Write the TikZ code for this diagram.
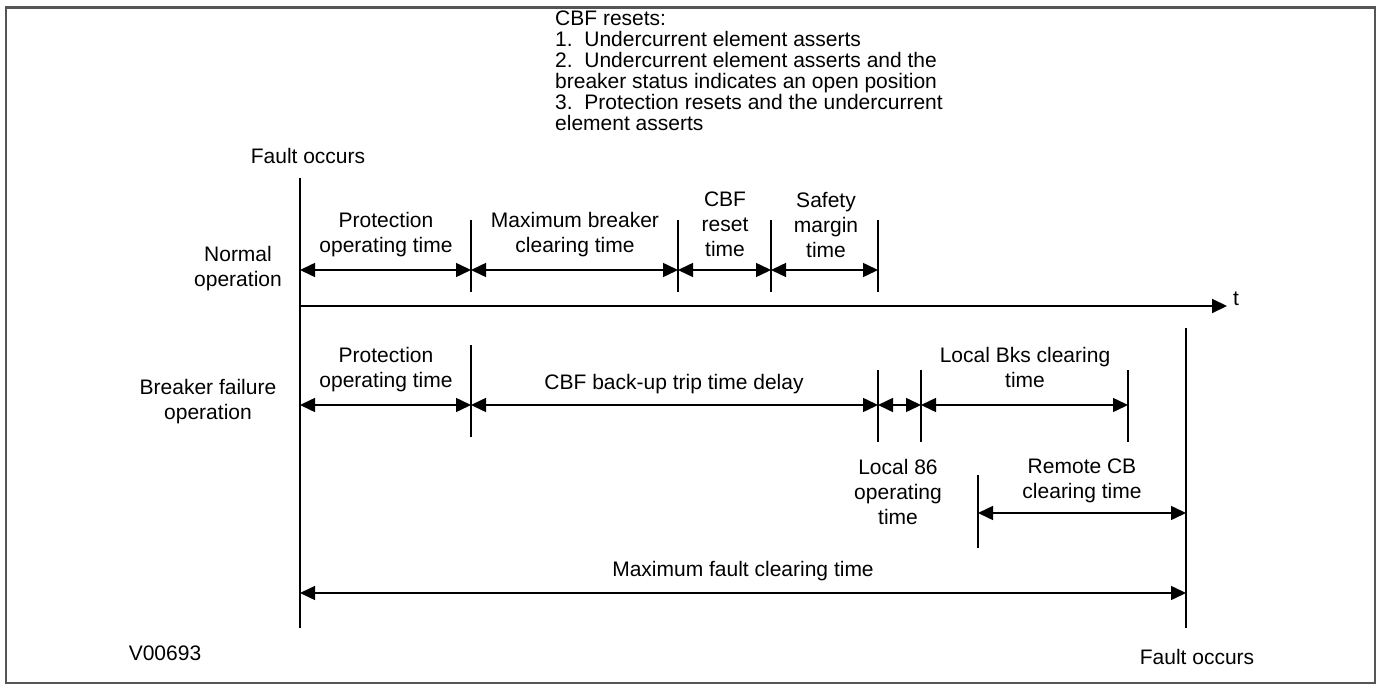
\documentclass[tikz,border=0pt]{standalone}
\usepackage{fontspec}
\setmainfont{Liberation Sans}
\usetikzlibrary{arrows.meta}
\begin{document}
\begin{tikzpicture}[x=1pt,y=-1pt,
  lbl/.style={font=\fontsize{21}{25}\selectfont, align=center, inner sep=0pt, anchor=north},
  tickline/.style={line width=1.5pt},
  mainline/.style={line width=2pt},
  tip/.tip={Triangle[length=15pt,width=14pt]},
  dim/.style={line width=1.5pt, tip-tip},
  axisline/.style={line width=2pt, -tip},
  frame/.style={draw={rgb,255:red,85;green,85;blue,85}, line width=2.5pt}
]
\useasboundingbox (0,0) rectangle (1380,684);
\draw[frame] (6,7.5) rectangle (1375,683);

% main vertical lines
\coordinate (f0t) at (300,178); \coordinate (f0b) at (300,628);
\coordinate (f1t) at (1186,328); \coordinate (f1b) at (1186,628);
\draw[mainline] (f0t) -- (f0b);
\draw[mainline] (f1t) -- (f1b);

% time axis
\coordinate (ax0) at (300,306); \coordinate (ax1) at (1227,306);
\draw[axisline] (ax0) -- (ax1);
\node[lbl, anchor=north west] (t) at (1233,292) {t};

% normal operation ticks
\foreach \x/\n in {471/1,678/2,771/3,878/4}{
  \coordinate (nt\n) at (\x,220); \coordinate (nb\n) at (\x,292);
  \draw[tickline] (nt\n) -- (nb\n);
  \coordinate (a\n) at (\x,270);
}
\coordinate (a0) at (300,270);
\draw[dim] (a0) -- (a1);
\draw[dim] (a1) -- (a2);
\draw[dim] (a2) -- (a3);
\draw[dim] (a3) -- (a4);

% breaker failure ticks
\coordinate (bt1) at (471,345); \coordinate (bb1) at (471,437);
\draw[tickline] (bt1) -- (bb1);
\foreach \x/\n in {878/2,921/3,1128/4}{
  \coordinate (bt\n) at (\x,370); \coordinate (bb\n) at (\x,442);
  \draw[tickline] (bt\n) -- (bb\n);
}
\coordinate (b0) at (300,405); \coordinate (b1) at (471,405);
\coordinate (b2) at (878,405); \coordinate (b3) at (921,405);
\coordinate (b4) at (1128,405);
\draw[dim] (b0) -- (b1);
\draw[dim] (b1) -- (b2);
\draw[dim] (b2) -- (b3);
\draw[dim] (b3) -- (b4);

% remote CB
\coordinate (rt) at (978,475); \coordinate (rb) at (978,548);
\draw[tickline] (rt) -- (rb);
\coordinate (r0) at (978,513); \coordinate (r1) at (1186,513);
\draw[dim] (r0) -- (r1);

% maximum fault clearing
\coordinate (m0) at (300,593); \coordinate (m1) at (1186,593);
\draw[dim] (m0) -- (m1);

% labels
\node[lbl] (fo1) at (308,148) {Fault occurs};
\node[lbl] (fo2) at (1197,649) {Fault occurs};
\node[lbl] (no) at (238,246) {Normal\\operation};
\node[lbl] (bf) at (208,379) {Breaker failure\\operation};
\node[lbl] (v) at (165,646) {V00693};

\node[lbl] (l1) at (386,212) {Protection\\operating time};
\node[lbl] (l2) at (575,212) {Maximum breaker\\clearing time};
\node[lbl] (l3) at (725,192) {CBF\\reset\\time};
\node[lbl] (l4) at (826,192) {Safety\\margin\\time};

\node[lbl] (l5) at (386,347) {Protection\\operating time};
\node[lbl] (l6) at (674,374) {CBF back-up trip time delay};
\node[lbl] (l7) at (1025,347) {Local Bks clearing\\time};
\node[lbl] (l8) at (898,459) {Local 86\\operating\\time};
\node[lbl] (l9) at (1082,459) {Remote CB\\clearing time};
\node[lbl] (l10) at (743,561) {Maximum fault clearing time};

\node[lbl, align=left, anchor=north west, font=\fontsize{21}{21}\selectfont] (cbf) at (555,11)
 {CBF resets:\\1.\ \ Undercurrent element asserts\\2.\ \ Undercurrent element asserts and the\\breaker status indicates an open position\\3.\ \ Protection resets and the undercurrent\\element asserts};
\end{tikzpicture}
\end{document}
